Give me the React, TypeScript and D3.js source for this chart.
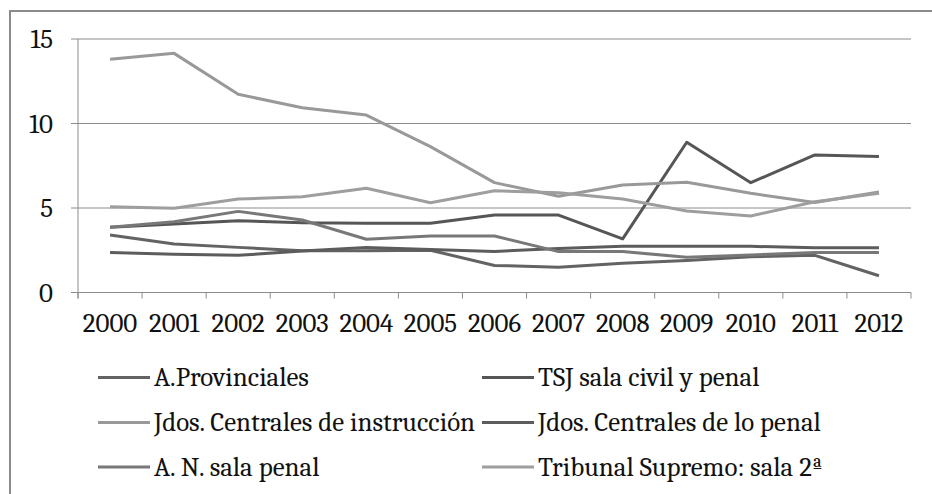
import React from "react";
import * as d3 from "d3";

const years = ["2000","2001","2002","2003","2004","2005","2006","2007","2008","2009","2010","2011","2012"];
const yTicks = [0, 5, 10, 15];

const aProvinciales = [3.4, 2.87, 2.67, 2.47, 2.47, 2.5, 1.6, 1.5, 1.73, 1.9, 2.12, 2.2, 0.99];
const tsjCivilPenal = [3.86, 4.05, 4.25, 4.12, 4.1, 4.1, 4.58, 4.58, 3.17, 8.89, 6.5, 8.14, 8.05];
const jdosInstruccion = [13.8, 14.15, 11.73, 10.93, 10.5, 8.63, 6.5, 5.7, 6.36, 6.52, 5.87, 5.33, 5.95];
const jdosPenal = [2.36, 2.26, 2.2, 2.45, 2.67, 2.55, 2.43, 2.6, 2.73, 2.73, 2.73, 2.65, 2.65];
const anSalaPenal = [3.86, 4.19, 4.8, 4.29, 3.15, 3.34, 3.34, 2.42, 2.42, 2.08, 2.22, 2.36, 2.36];
const tribunalSupremo = [5.08, 4.98, 5.53, 5.67, 6.17, 5.31, 6.02, 5.9, 5.53, 4.82, 4.53, 5.37, 5.87];

const seriesNames = [
  "A.Provinciales",
  "TSJ sala civil y penal",
  "Jdos. Centrales de instrucción",
  "Jdos. Centrales de lo penal",
  "A. N. sala penal",
  "Tribunal Supremo: sala 2ª",
];
const seriesValues = [aProvinciales, tsjCivilPenal, jdosInstruccion, jdosPenal, anSalaPenal, tribunalSupremo];
const seriesColors = ["#636363", "#565656", "#999999", "#5c5c5c", "#787878", "#9e9e9e"];

const W = 932, H = 494;
const plotL = 78, plotR = 911, plotT = 39, plotB = 292.5;
const font = "Cambria";
const SX = 1.035;

function T(props: { x: number; y: number; anchor?: string; size: number; children: React.ReactNode }) {
  return (
    <g transform={`translate(${props.x},${props.y}) scale(${SX},1)`}>
      <text x={0} y={0} textAnchor={props.anchor || "start"} fontFamily={font} fontSize={props.size} fill="#111">
        {props.children}
      </text>
    </g>
  );
}

export default function App() {
  const x = d3.scaleBand<string>().domain(years).range([plotL, plotR]);
  const y = d3.scaleLinear().domain([0, 15]).range([plotB, plotT]);
  const cx = (yr: string) => (x(yr) as number) + x.bandwidth() / 2;
  const line = d3.line<number>().x((_, i) => cx(years[i])).y((v) => y(v));
  const boundaries = years.map((yr) => x(yr) as number).concat([plotR]);

  const legendRows = [377.5, 422.5, 467];
  const legendCols = [{ lx: 98, tx: 154 }, { lx: 482, tx: 538 }];

  return (
    <div style={{ position: "absolute", left: 0, top: 0 }}>
      <svg width={W} height={H} style={{ display: "block", background: "#fff" }}>
        <rect x={10} y={11} width={960} height={520} fill="#fff" stroke="#8a8a8a" strokeWidth={2} />
        {yTicks.filter((t) => t > 0).map((t) => (
          <line key={"g" + t} x1={plotL} x2={plotR} y1={y(t)} y2={y(t)} stroke="#8c8c8c" strokeWidth={1} />
        ))}
        <line x1={plotL} x2={plotR} y1={plotB} y2={plotB} stroke="#8c8c8c" strokeWidth={1} />
        <line x1={plotL} x2={plotL} y1={plotT} y2={plotB + 6} stroke="#8c8c8c" strokeWidth={1} />
        {yTicks.map((t) => (
          <g key={"yt" + t}>
            <line x1={plotL - 7} x2={plotL} y1={y(t)} y2={y(t)} stroke="#8c8c8c" strokeWidth={1} />
            <T x={53} y={y(t) + 9} anchor="end" size={26}>{t}</T>
          </g>
        ))}
        {boundaries.map((b, i) => (
          <line key={"xt" + i} x1={b} x2={b} y1={plotB} y2={plotB + 6} stroke="#8c8c8c" strokeWidth={1} />
        ))}
        {years.map((yr) => (
          <T key={yr} x={cx(yr)} y={331.5} anchor="middle" size={26}>{yr}</T>
        ))}
        {seriesValues.map((vals, i) => (
          <path key={"s" + i} d={line(vals) || ""} fill="none" stroke={seriesColors[i]} strokeWidth={3} strokeLinejoin="round" />
        ))}
        {seriesNames.map((name, i) => {
          const row = Math.floor(i / 2);
          const col = legendCols[i % 2];
          const ly = legendRows[row];
          return (
            <g key={"l" + i}>
              <line x1={col.lx} x2={col.lx + 52} y1={ly} y2={ly} stroke={seriesColors[i]} strokeWidth={3} />
              <T x={col.tx} y={ly + 8.5} size={26}>{name}</T>
            </g>
          );
        })}
      </svg>
    </div>
  );
}
